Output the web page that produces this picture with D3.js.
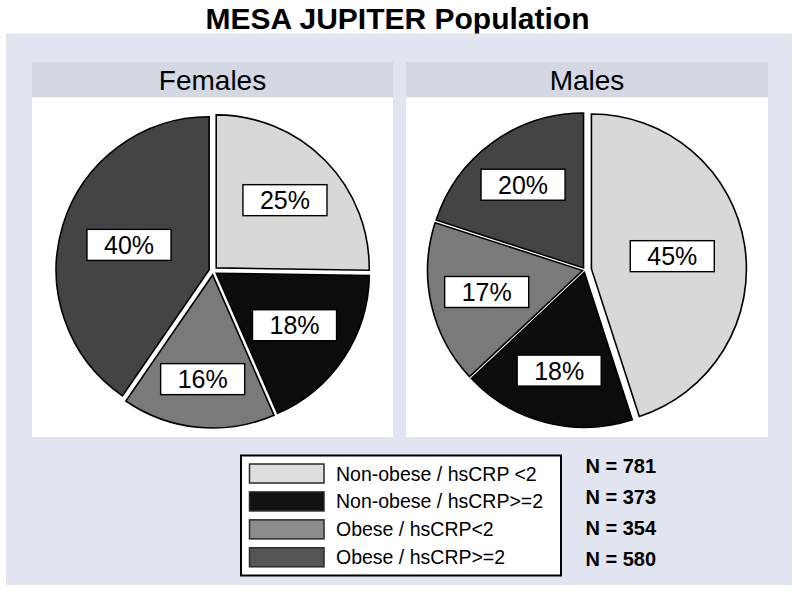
<!DOCTYPE html>
<html>
<head>
<meta charset="utf-8">
<script src="https://cdn.jsdelivr.net/npm/d3@7"></script>
<style>
  html, body { margin: 0; padding: 0; background: #ffffff; }
  svg { display: block; font-family: "Liberation Sans", Arial, Helvetica, sans-serif; }
</style>
</head>
<body>
<svg id="chart" width="800" height="592"></svg>
<script>
// ---------------- data ----------------
const chartTitle = "MESA JUPITER Population";
const categories = ["Non-obese / hsCRP <2", "Non-obese / hsCRP>=2", "Obese / hsCRP<2", "Obese / hsCRP>=2"];
const panelNames = ["Females", "Males"];
const femaleValues = [25, 18, 16, 40];
const maleValues = [45, 18, 17, 20];
const groupCounts = [781, 373, 354, 580];

// ---------------- styling / layout ----------------
const colors = ["#e0e0e0", "#121212", "#8b8b8b", "#4c4c4c"];
const gradLight = ["#e6e6e6", "#1c1c1c", "#9a9a9a", "#585858"];
const gradDark  = ["#d8d8d8", "#0c0c0c", "#7a7a7a", "#444444"];

const svg = d3.select("#chart");
const W = 800, H = 592;

svg.append("rect").attr("x", 0).attr("y", 0).attr("width", W).attr("height", H).attr("fill", "#ffffff");

// title
svg.append("text")
  .attr("x", 397.5).attr("y", 28.5)
  .attr("text-anchor", "middle")
  .attr("font-size", 30).attr("font-weight", "bold")
  .attr("fill", "#000")
  .text(chartTitle);

// outer panel
svg.append("rect")
  .attr("x", 6).attr("y", 33.5).attr("width", 786).attr("height", 551.5)
  .attr("fill", "#e0e5ef");

const panels = [
  { name: panelNames[0], values: femaleValues, x: 32, w: 361, cx: 213, cy: 271, r: 153,
    explode: [4.5, 4, 4, 4], labelF: [0.66, 0.64, 0.71, 0.575] },
  { name: panelNames[1], values: maleValues, x: 406, w: 362, cx: 585, cy: 270, r: 155,
    explode: [6.5, 2.5, 2.5, 2.5], labelF: [0.57, 0.67, 0.65, 0.68] }
];

const defs = svg.append("defs");

const pie = d3.pie().sort(null).value(d => d).startAngle(0).endAngle(2 * Math.PI);

panels.forEach((p, pi) => {
  // header
  svg.append("rect").attr("x", p.x).attr("y", 62).attr("width", p.w).attr("height", 35.5)
    .attr("fill", "#d3d8e3");
  svg.append("text")
    .attr("x", p.x + p.w / 2).attr("y", 89.5)
    .attr("text-anchor", "middle")
    .attr("font-size", 28).attr("fill", "#000")
    .text(p.name);
  // plot area
  svg.append("rect").attr("x", p.x).attr("y", 97.5).attr("width", p.w).attr("height", 339.5)
    .attr("fill", "#ffffff");

  // gradients for this pie
  colors.forEach((c, i) => {
    const g = defs.append("radialGradient")
      .attr("id", `g${pi}_${i}`)
      .attr("gradientUnits", "userSpaceOnUse")
      .attr("cx", p.cx).attr("cy", p.cy).attr("r", p.r);
    g.append("stop").attr("offset", "0%").attr("stop-color", gradLight[i]);
    g.append("stop").attr("offset", "100%").attr("stop-color", gradDark[i]);
  });

  const arcs = pie(p.values);
  const arc = d3.arc().innerRadius(0).outerRadius(p.r);

  const g = svg.append("g");
  arcs.forEach((a, i) => {
    const mid = (a.startAngle + a.endAngle) / 2;
    const dx = Math.sin(mid) * p.explode[i];
    const dy = -Math.cos(mid) * p.explode[i];
    g.append("path")
      .attr("d", arc(a))
      .attr("transform", `translate(${p.cx + dx},${p.cy + dy})`)
      .attr("fill", `url(#g${pi}_${i})`)
      .attr("stroke", "#000")
      .attr("stroke-width", 1.6)
      .attr("stroke-linejoin", "miter");
  });

  // labels
  arcs.forEach((a, i) => {
    const lr = p.r * p.labelF[i];
    const labelArc = d3.arc().innerRadius(lr).outerRadius(lr);
    const [lx, ly] = labelArc.centroid(a);
    const x = p.cx + lx, y = p.cy + ly;
    const pct = Math.round(a.value) + "%";
    const lg = g.append("g").attr("transform", `translate(${x},${y})`);
    const rect = lg.append("rect").attr("fill", "#fff").attr("stroke", "#000").attr("stroke-width", 1.4);
    const t = lg.append("text")
      .attr("text-anchor", "middle")
      .attr("y", 9)
      .attr("font-size", 25).attr("fill", "#000")
      .text(pct);
    const bw = t.node().getComputedTextLength() + 34;
    rect.attr("x", -bw / 2).attr("y", -15.5).attr("width", bw).attr("height", 31);
  });
});

// legend
const leg = svg.append("g");
leg.append("rect")
  .attr("x", 241).attr("y", 455.5).attr("width", 320).attr("height", 120)
  .attr("fill", "#fff").attr("stroke", "#000").attr("stroke-width", 2);

const rowY = d3.scaleLinear().domain([0, 3]).range([473.5, 557.3]);
const legendSwatchFills = ["#dedede", "#121212", "#8c8c8c", "#555555"];

categories.forEach((c, i) => {
  const cy = rowY(i);
  leg.append("rect")
    .attr("x", 249.5).attr("y", cy - 9.5).attr("width", 74.5).attr("height", 19)
    .attr("fill", legendSwatchFills[i]).attr("stroke", "#2a2a2a").attr("stroke-width", 1.5);
  leg.append("text")
    .attr("x", 336).attr("y", cy + 7)
    .attr("font-size", 19.5).attr("fill", "#000")
    .text(c);
});

// N counts
const nY = d3.scaleLinear().domain([0, 3]).range([465, 558]);
groupCounts.forEach((n, i) => {
  svg.append("text")
    .attr("x", 585.5).attr("y", nY(i) + 7.5)
    .attr("font-size", 20).attr("font-weight", "bold").attr("fill", "#000")
    .text("N = " + n);
});
</script>
</body>
</html>
